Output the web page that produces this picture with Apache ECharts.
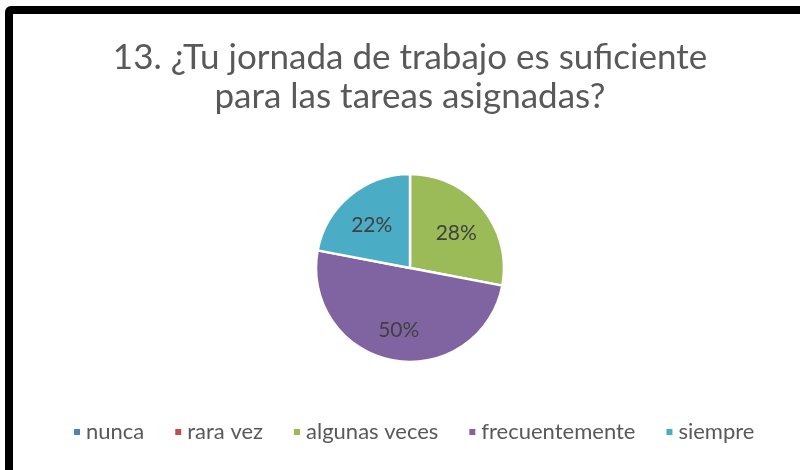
<!DOCTYPE html>
<html lang="es">
<head>
  <meta charset="UTF-8">
  <title>Jornada de trabajo</title>
  <script src="https://cdn.jsdelivr.net/npm/echarts@6/dist/echarts.min.js"></script>
  <style>
    body {
      margin: 0;
      background: #fff;
      overflow: hidden;
    }

    #chart {
      position: absolute;
      left: 0;
      top: 0;
      width: 800px;
      height: 470px;
    }

    #frame {
      position: absolute;
      left: 5px;
      top: 6px;
      width: 830px;
      height: 476px;
      border: 8px solid #000;
      border-radius: 6px;
      pointer-events: none;
    }
  </style>
</head>
<body>
<div id="chart"></div>
<div id="frame"></div>
</body>
<script>
  const categories = ['nunca', 'rara vez', 'algunas veces', 'frecuentemente', 'siempre'];
  const values = [0, 0, 28, 50, 22];
  const colors = ['#4F81BD', '#C0504D', '#9BBB59', '#8064A2', '#4BACC6'];

  const cx = 410, cy = 268;

  let pieData = [];
  for (let i = 0; i < categories.length; i++) {
    pieData.push({name: categories[i], value: values[i]});
  }

  echarts.init(document.getElementById('chart')).setOption({
    color: colors,
    animation: false,
    title: {
      text: '13. ¿Tu jornada de trabajo es suficiente\npara las tareas asignadas?',
      left: 405,
      top: 33,
      textAlign: 'center',
      textStyle: {
        fontFamily: 'Lato',
        fontWeight: 'normal',
        fontSize: 35,
        lineHeight: 39,
        color: '#595959'
      }
    },
    legend: {
      bottom: 22,
      left: 67,
      icon: 'rect',
      itemWidth: 8,
      itemHeight: 8,
      itemGap: 29,
      textStyle: {
        fontFamily: 'Lato',
        fontSize: 22,
        color: '#595959'
      },
      data: categories
    },
    series: [{
      type: 'pie',
      center: [cx, cy],
      radius: 94,
      startAngle: 90,
      clockwise: true,
      itemStyle: {borderColor: '#fff', borderWidth: 2.5},
      label: {
        position: 'inside',
        fontFamily: 'Lato',
        fontSize: 21,
        color: '#404040',
        formatter: function (p) {
          return p.value ? p.value + '%' : '';
        }
      },
      labelLayout: function (p) {
        const r = p.labelRect;
        const lx = r.x + r.width / 2, ly = r.y + r.height / 2;
        return {dx: (lx - cx) * 0.2, dy: (ly - cy) * 0.2 + 3};
      },
      emphasis: {disabled: true},
      data: pieData
    }]
  });
</script>
</html>
